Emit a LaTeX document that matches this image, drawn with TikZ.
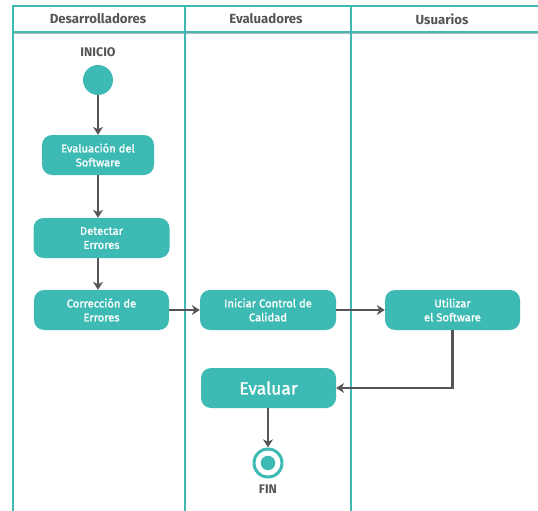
\documentclass[tikz,border=0pt]{standalone}
\usepackage{fontspec}
\setmainfont{Fira Sans}
\newfontfamily\medfont[FakeBold=1.4]{Fira Sans}
\usetikzlibrary{arrows.meta}
\definecolor{teal1}{HTML}{3DBAB3}
\definecolor{ink}{HTML}{555555}
\definecolor{headtxt}{HTML}{555555}
\begin{document}
\begin{tikzpicture}[x=1pt,y=-1pt,
  lane/.style={draw=teal1,line width=2.6pt},
  act/.style={fill=teal1,rounded corners=10pt,minimum height=40pt,inner sep=0pt,
    text=white,align=center,font=\medfont\fontsize{11.2}{14}\selectfont},
  flow/.style={draw=ink,line width=2.6pt,-{Stealth[length=8pt,width=10pt]}},
  head/.style={text=headtxt,font=\fontsize{13.2}{15}\selectfont\bfseries},
  lbl/.style={text=headtxt,font=\fontsize{12.5}{14}\selectfont\bfseries}]
\useasboundingbox (0,0) rectangle (538,511);
% swimlane frame
\draw[gray!55,line width=1.3pt] (13,33.8) -- (538,33.8);
\draw[lane] (538,6) -- (13,6) -- (13,511);
\draw[lane] (13,32) -- (538,32);
\draw[lane] (185,6) -- (185,511);
\draw[lane] (351,6) -- (351,511);
\node[head] (h1) at (98,19) {Desarrolladores};
\node[head] (h2) at (266,19) {Evaluadores};
\node[head] (h3) at (442,19) {Usuarios};
% start
\node[lbl] (ini) at (98,52) {INICIO};
\node[circle,fill=teal1,minimum size=30pt,inner sep=0pt] (start) at (98,80) {};
% activities
\node[act,minimum width=112pt] (a1) at (98,155) {Evaluación del\\Software};
\node[act,minimum width=136pt] (a2) at (101.5,238) {Detectar\\Errores};
\node[act,minimum width=135pt] (a3) at (101.5,310) {Corrección de\\Errores};
\node[act,minimum width=136pt] (a4) at (268,310) {Iniciar Control de\\Calidad};
\node[act,minimum width=135pt] (a5) at (452.5,310) {Utilizar\\el Software};
\node[act,minimum width=135pt,font=\medfont\fontsize{17.5}{19}\selectfont] (a6) at (268.5,388) {Evaluar};
% end
\node[circle,fill=teal1,minimum size=31pt,inner sep=0pt] (end) at (268,463) {};
\node[circle,fill=white,minimum size=25pt,inner sep=0pt] (endring) at (end) {};
\node[circle,fill=teal1,minimum size=14.5pt,inner sep=0pt] (enddot) at (end) {};
\node[lbl] (fin) at (268,489) {FIN};
% connectors
\draw[flow] (start.south) -- (a1.north);
\draw[flow] (a1.south -| start) -- (a2.north -| start);
\draw[flow] (a2.south -| start) -- (a3.north -| start);
\draw[flow] (a3.east) -- (a4.west);
\draw[flow] (a4.east) -- (a5.west);
\draw[flow] (a5.south) |- (a6.east);
\draw[flow] (a6.south -| end) -- (end.north);
\end{tikzpicture}
\end{document}
